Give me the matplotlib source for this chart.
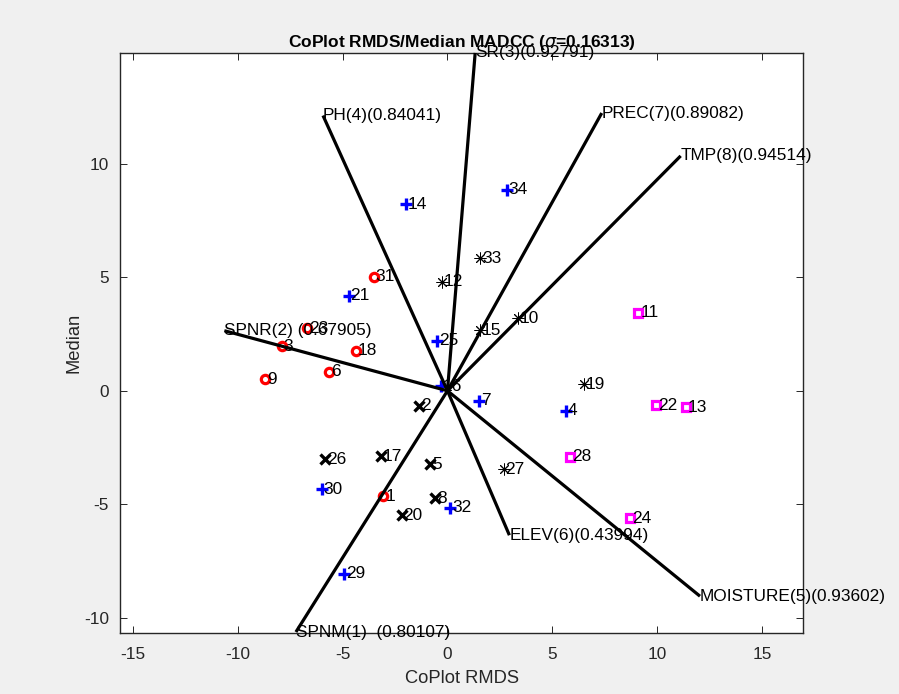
import matplotlib
matplotlib.use('Agg')
import matplotlib.pyplot as plt
import numpy as np

# observations 1..34 (CoPlot RMDS, Median) and their cluster
obs_x = [-3.05, -1.35, -7.89, 5.64, -0.82, -5.63, 1.51, -0.59, -8.68, 3.38,
         9.10, -0.24, 11.37, -1.97, 1.56, -0.31, -3.17, -4.35, 6.51, -2.17,
         -4.71, 9.94, -6.67, 8.70, -0.48, -5.82, 2.67, 5.84, -4.92, -5.98,
         -3.51, 0.13, 1.56, 2.83]
obs_y = [-4.65, -0.66, 1.97, -0.88, -3.24, 0.84, -0.45, -4.75, 0.50, 3.20,
         3.44, 4.81, -0.73, 8.23, 2.68, 0.21, -2.88, 1.77, 0.28, -5.49,
         4.19, -0.63, 2.75, -5.63, 2.21, -3.02, -3.46, -2.91, -8.06, -4.35,
         5.03, -5.17, 5.85, 8.86]
obs_cluster = [1, 3, 1, 2, 3, 1, 2, 3, 1, 4,
               5, 4, 5, 2, 4, 2, 3, 1, 4, 3,
               2, 5, 1, 5, 2, 3, 4, 5, 2, 2,
               1, 2, 4, 2]

# variable arrows
var_names = ['SPNM(1)  (0.80107)', 'SPNR(2) (0.67905)', 'SR(3)(0.92791)',
             'PH(4)(0.84041)', 'MOISTURE(5)(0.93602)', 'ELEV(6)(0.43994)',
             'PREC(7)(0.89082)', 'TMP(8)(0.94514)']
var_x = [-7.22, -10.63, 1.32, -5.93, 12.03, 2.95, 7.35, 11.11]
var_y = [-10.64, 2.65, 14.9, 12.14, -9.06, -6.37, 12.25, 10.36]

sigma = 0.16313

styles = {
    1: dict(marker='o', color='#ff0000', ms=6, mew=2.3),
    2: dict(marker='+', color='#0000ff', ms=8, mew=2.4),
    3: dict(marker='x', color='#000000', ms=6.5, mew=2.4),
    4: dict(marker=(8, 2, 0), color='#000000', ms=8.5, mew=0.7),
    5: dict(marker='s', color='#ff00ff', ms=6.3, mew=2.3),
}

plt.rcParams['font.family'] = ['Liberation Sans', 'DejaVu Sans']
plt.rcParams['axes.unicode_minus'] = False

fig = plt.figure(figsize=(8.99, 6.94), dpi=100, facecolor='#f0f0f0')
ax = fig.add_axes([0.1335, 0.0880, 0.7600, 0.8357])
ax.set_facecolor('white')

ox = np.array(obs_x)
oy = np.array(obs_y)
oc = np.array(obs_cluster)
for c, st in styles.items():
    m = oc == c
    ax.plot(ox[m], oy[m], linestyle='none', marker=st['marker'],
            markersize=st['ms'], markeredgewidth=st['mew'],
            markeredgecolor=st['color'], markerfacecolor='none', zorder=2)

for i in range(len(obs_x)):
    ax.text(obs_x[i] + 0.08, obs_y[i], str(i + 1), ha='left', va='center',
            fontsize=12.4, color='black', zorder=4)

for name, vx, vy in zip(var_names, var_x, var_y):
    ax.plot([0, vx], [0, vy], color='black', lw=2.3, zorder=3,
            solid_capstyle='butt', clip_on=False)
    ax.text(vx, vy, name, ha='left', va='center', fontsize=12.4,
            color='black', zorder=5, clip_on=False)

ax.set_xlim(-15.6, 16.95)
ax.set_ylim(-10.68, 14.9)
ax.set_xticks([-15, -10, -5, 0, 5, 10, 15])
ax.set_yticks([-10, -5, 0, 5, 10])

for s in ax.spines.values():
    s.set_color('#262626')
    s.set_linewidth(1.0)
ax.tick_params(direction='in', length=5, width=0.7, color='#262626',
               labelsize=12.4, labelcolor='#262626', top=True, right=True)
ax.tick_params(axis='x', pad=10)
ax.tick_params(axis='y', pad=8)

ax.set_xlabel('CoPlot RMDS', fontsize=13.2, color='#262626', labelpad=6)
ax.set_ylabel('Median', fontsize=13.2, color='#262626', labelpad=1)
ax.set_title('CoPlot RMDS/Median MADCC ($\\sigma$=%.5f)' % sigma,
             fontsize=12.5, fontweight='bold', pad=4)

fig.savefig('out.png', dpi=100, facecolor=fig.get_facecolor())
